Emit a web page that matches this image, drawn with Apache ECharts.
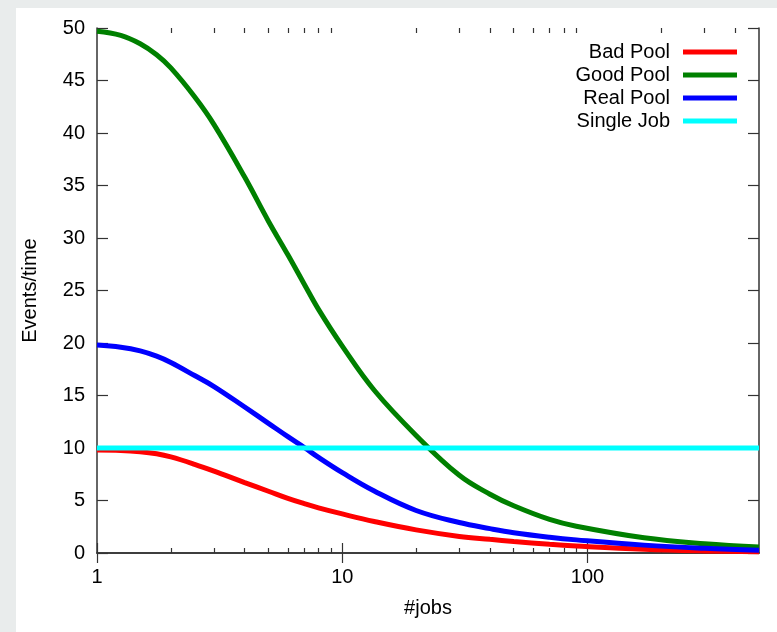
<!DOCTYPE html>
<html>
<head>
<meta charset="utf-8">
<script src="https://cdn.jsdelivr.net/npm/echarts@6/dist/echarts.min.js"></script>
<style>
  html, body { margin: 0; padding: 0; width: 777px; height: 632px; overflow: hidden; background: #e9ecec; }
  #chart { position: absolute; left: 16px; top: 8px; width: 761px; height: 624px; background: #ffffff; }
</style>
</head>
<body>
<div id="chart"></div>
<script>
// Number of jobs (log scale) and throughput for each pool strategy
const jobs      = [1, 1.25, 1.5, 1.75, 2, 2.5, 3, 4, 5, 6, 7, 8, 10, 13.5, 20, 30, 40, 50, 70, 90, 170, 300, 500];
const badPool   = [9.8, 9.77, 9.65, 9.45, 9.15, 8.45, 7.8, 6.7, 5.88, 5.2, 4.7, 4.3, 3.72, 3.0, 2.2, 1.58, 1.3, 1.1, 0.83, 0.67, 0.36, 0.2, 0.12];
const goodPool  = [49.7, 49.3, 48.5, 47.45, 46.2, 43.45, 40.8, 35.8, 31.6, 28.4, 25.6, 23.2, 19.7, 15.5, 11.2, 7.4, 5.6, 4.5, 3.2, 2.55, 1.45, 0.88, 0.56];
const realPool  = [19.8, 19.6, 19.25, 18.75, 18.15, 16.9, 15.85, 13.9, 12.35, 11.08, 10.05, 9.1, 7.65, 5.9, 4.05, 2.9, 2.32, 1.93, 1.5, 1.25, 0.75, 0.45, 0.27];
const singleJobX = [1, 500];
const singleJob  = [10, 10];

const seriesNames  = ['Bad Pool', 'Good Pool', 'Real Pool', 'Single Job'];
const seriesColors = ['#ff0000', '#008000', '#0000ff', '#00ffff'];

// Axis ticks
const xMajorTicks = [1, 10, 100];
const xMinorTicks = [2, 3, 4, 5, 6, 7, 8, 9, 20, 30, 40, 50, 60, 70, 80, 90, 200, 300, 400];
const yTicks = { min: 0, max: 50, step: 5 };
const xRange = { min: 1, max: 500 };

const FONT = '"Liberation Sans", Arial, Helvetica, sans-serif';
const AXIS_COLOR = '#333333';

const pairs = (xs, ys) => xs.map((x, i) => [x, ys[i]]);

const chart = echarts.init(document.getElementById('chart'), null, { renderer: 'canvas' });

const plotRect = { left: 81, right: 18, top: 20, bottom: 79, outerBoundsMode: 'none', containLabel: false };
const frameLine = { show: true, lineStyle: { color: AXIS_COLOR, width: 1.5 } };
const tickStyle = { color: AXIS_COLOR, width: 1.2 };

function logAxis(gridIndex, position, extra) {
  return Object.assign({
    type: 'log', logBase: 10, min: xRange.min, max: xRange.max,
    gridIndex: gridIndex, position: position,
    axisLine: { show: false }, axisLabel: { show: false },
    splitLine: { show: false }
  }, extra);
}

const option = {
  animation: false,
  textStyle: { fontFamily: FONT },
  // two overlapping grids: one carries data, frame and major ticks, the other minor ticks
  grid: [Object.assign({}, plotRect), Object.assign({}, plotRect)],
  legend: {
    orient: 'vertical',
    align: 'right',
    right: 40,
    top: 34,
    padding: 0,
    itemGap: 3,
    itemWidth: 54,
    itemHeight: 5,
    icon: 'rect',
    selectedMode: false,
    data: seriesNames,
    textStyle: { fontSize: 20, color: '#000', fontFamily: FONT, padding: [0, 8, 0, 0] }
  },
  xAxis: [
    logAxis(0, 'bottom', {
      axisLine: frameLine,
      axisTick: { show: true, inside: true, length: 10, lineStyle: tickStyle, customValues: xMajorTicks },
      axisLabel: { show: true, margin: 14, fontSize: 20, color: '#000', fontFamily: FONT, customValues: xMajorTicks },
      name: '#jobs', nameLocation: 'middle', nameGap: 45,
      nameTextStyle: { fontSize: 20, color: '#000', fontFamily: FONT }
    }),
    logAxis(0, 'top', {
      axisLine: frameLine,
      axisTick: { show: true, inside: true, length: 10, lineStyle: tickStyle, customValues: xMajorTicks }
    }),
    logAxis(1, 'bottom', {
      axisTick: { show: true, inside: true, length: 5, lineStyle: tickStyle, customValues: xMinorTicks }
    }),
    logAxis(1, 'top', {
      axisTick: { show: true, inside: true, length: 5, lineStyle: tickStyle, customValues: xMinorTicks }
    })
  ],
  yAxis: [
    {
      type: 'value', min: yTicks.min, max: yTicks.max, interval: yTicks.step, gridIndex: 0, position: 'left',
      axisLine: frameLine,
      axisTick: { show: true, inside: true, length: 11, lineStyle: tickStyle },
      axisLabel: { margin: 12, fontSize: 20, color: '#000', fontFamily: FONT },
      splitLine: { show: false },
      name: 'Events/time', nameLocation: 'middle', nameGap: 57,
      nameTextStyle: { fontSize: 20, color: '#000', fontFamily: FONT }
    },
    {
      type: 'value', min: yTicks.min, max: yTicks.max, interval: yTicks.step, gridIndex: 0, position: 'right',
      axisLine: frameLine,
      axisTick: { show: true, inside: true, length: 11, lineStyle: tickStyle },
      axisLabel: { show: false },
      splitLine: { show: false }
    },
    { type: 'value', gridIndex: 1, min: yTicks.min, max: yTicks.max, show: false }
  ],
  series: [
    [badPool, jobs], [goodPool, jobs], [realPool, jobs], [singleJob, singleJobX]
  ].map(([ys, xs], i) => ({
    name: seriesNames[i],
    type: 'line',
    xAxisIndex: 0,
    yAxisIndex: 0,
    data: pairs(xs, ys),
    smooth: 0.4,
    symbol: 'none',
    color: seriesColors[i],
    lineStyle: { color: seriesColors[i], width: 5 },
    z: 2 + i
  }))
};

chart.setOption(option);
</script>
</body>
</html>
